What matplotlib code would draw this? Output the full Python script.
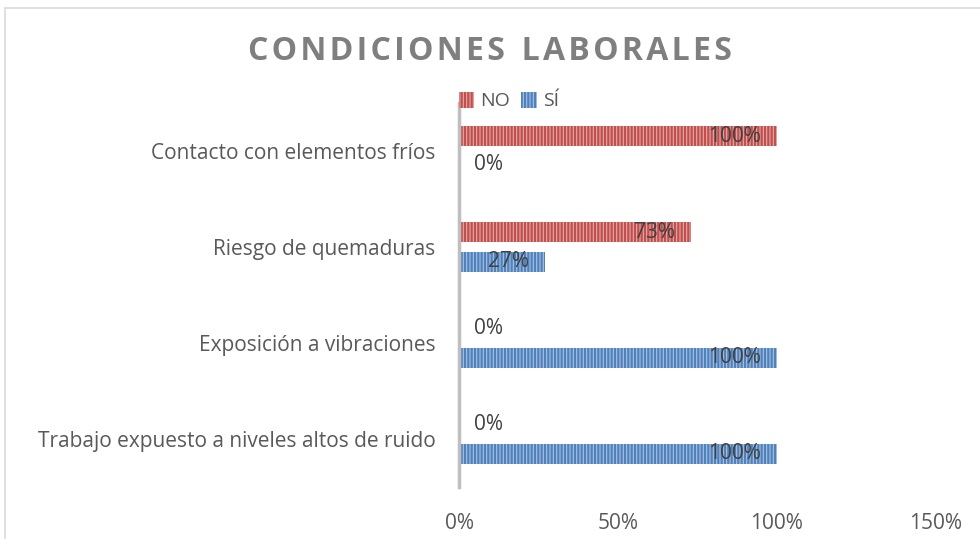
import matplotlib.pyplot as plt
import matplotlib as mpl
import numpy as np

categories = ["Trabajo expuesto a niveles altos de ruido", "Exposición a vibraciones",
              "Riesgo de quemaduras", "Contacto con elementos fríos"]
no_vals = [0, 0, 73, 100]
si_vals = [100, 100, 27, 0]

plt.rcParams['font.family'] = ['Open Sans', 'DejaVu Sans']
mpl.rcParams['hatch.linewidth'] = 1.6

fig = plt.figure(figsize=(9.8, 5.39), dpi=100)
ax = fig.add_axes([459 / 980, 1 - 487 / 539, (936 - 459) / 980, (487 - 103) / 539])

# outer border of the chart
fig.patches.append(plt.Rectangle((5 / 980, -0.01), 1.0, 1 - 8 / 539 + 0.01, transform=fig.transFigure,
                                 fill=False, edgecolor='#d9d9d9', linewidth=1.2))

y = np.arange(len(categories))
h = 0.21
off = 0.156

red_light, red_dark = '#e8a9a8', '#c0504d'
blue_light, blue_dark = '#a9c3e3', '#4f81bd'

bno = ax.barh(y + off, [v / 100 for v in no_vals], height=h, color=red_light, edgecolor=red_dark,
              hatch='|||||', linewidth=0, label='NO')
bsi = ax.barh(y - off, [v / 100 for v in si_vals], height=h, color=blue_light, edgecolor=blue_dark,
              hatch='|||||', linewidth=0, label='SÍ')

lab_col = '#404040'
fs = 15
for yy, v in zip(y + off, no_vals):
    if v > 0:
        ax.text(v / 100 - 0.05, yy, f"{v}%", ha='right', va='center', fontsize=fs, color=lab_col)
    else:
        ax.text(0.047, yy - 0.01, f"{v}%", ha='left', va='center', fontsize=fs, color=lab_col)
for yy, v in zip(y - off, si_vals):
    if v > 0:
        ax.text(v / 100 - 0.05, yy, f"{v}%", ha='right', va='center', fontsize=fs, color=lab_col)
    else:
        ax.text(0.047, yy + 0.02, f"{v}%", ha='left', va='center', fontsize=fs, color=lab_col)

ax.set_xlim(0, 1.5)
ax.set_ylim(-0.5, 3.5)
ax.set_xticks([0, 0.5, 1.0, 1.5])
ax.set_xticklabels(['0%', '50%', '100%', '150%'])
ax.set_yticks(y)
ax.set_yticklabels(categories)
ax.tick_params(axis='both', length=0, labelsize=fs, labelcolor='#595959')
ax.tick_params(axis='x', pad=19)
ax.tick_params(axis='y', pad=17)
for s in ['top', 'right', 'bottom']:
    ax.spines[s].set_visible(False)
ax.spines['left'].set_color('#bfbfbf')
ax.spines['left'].set_linewidth(2.5)

title = "  ".join("\u200a".join(w) for w in "CONDICIONES LABORALES".split())
fig.text(0.5, 1 - 51 / 539, title,
         ha='center', va='center', fontsize=23, fontweight='bold', color='#7f7f7f')

leg = fig.legend(handles=[bno, bsi], labels=['NO', 'SÍ'], loc='center left',
                 bbox_to_anchor=(441 / 980, 1 - 101 / 539), ncol=2, frameon=False, fontsize=14,
                 handlelength=0.8, handleheight=0.9, handletextpad=0.3, columnspacing=0.6,
                 labelcolor='#595959')

fig.savefig('out.png', dpi=100)
